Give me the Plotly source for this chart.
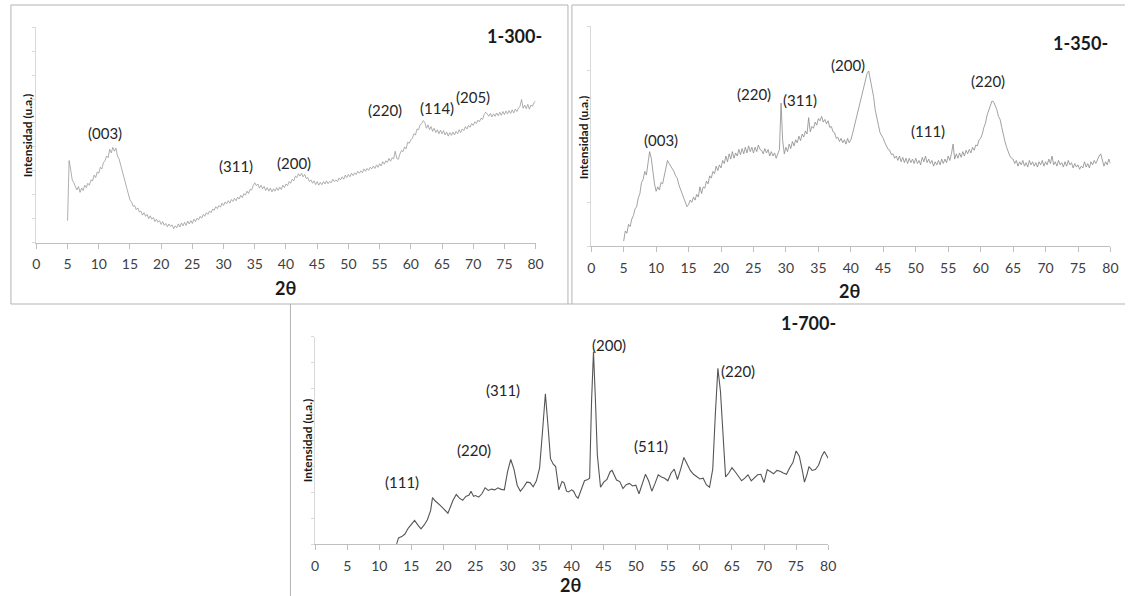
import plotly.graph_objects as go

W, H = 1133, 596

# ---------------- data ----------------
x_ticks = [0, 5, 10, 15, 20, 25, 30, 35, 40, 45, 50, 55, 60, 65, 70, 75, 80]

# Sample 1-300- : 2theta 5 -> 80, step 0.25 deg (one row = 5 deg)
int_300 = [
    0.92, 3.43, 3.05, 2.62, 2.5, 2.32, 2.2, 2.35, 2.1, 2.28, 2.18, 2.4, 2.3, 2.48, 2.4, 2.62, 2.58, 2.82, 2.72, 2.95,
    2.9, 3.15, 3.08, 3.35, 3.42, 3.62, 3.55, 3.9, 3.75, 3.98, 3.82, 3.95, 3.62, 3.5, 3.25, 3.0, 2.72, 2.5, 2.18, 1.98,
    1.78, 1.7, 1.52, 1.55, 1.38, 1.45, 1.28, 1.32, 1.15, 1.25, 1.1, 1.18, 1.0, 1.12, 0.98, 1.05, 0.88, 0.98, 0.85, 0.92,
    0.76, 0.88, 0.72, 0.8, 0.66, 0.78, 0.68, 0.74, 0.58, 0.7, 0.62, 0.78, 0.65, 0.82, 0.7, 0.85, 0.72, 0.9, 0.78, 0.92,
    0.8, 0.98, 0.88, 1.02, 0.95, 1.1, 1.02, 1.18, 1.1, 1.25, 1.18, 1.32, 1.25, 1.4, 1.35, 1.5, 1.42, 1.55, 1.48, 1.65,
    1.55, 1.7, 1.62, 1.75, 1.65, 1.8, 1.72, 1.85, 1.75, 1.9, 1.82, 1.98, 1.88, 2.05, 1.98, 2.15, 2.05, 2.22, 2.2, 2.38,
    2.5, 2.38, 2.45, 2.28, 2.4, 2.25, 2.35, 2.18, 2.3, 2.15, 2.28, 2.12, 2.25, 2.15, 2.3, 2.18, 2.32, 2.22, 2.4, 2.3,
    2.45, 2.38, 2.55, 2.48, 2.65, 2.58, 2.78, 2.72, 2.88, 2.78, 2.9, 2.75, 2.85, 2.68, 2.72, 2.55, 2.62, 2.48, 2.58, 2.42,
    2.55, 2.4, 2.52, 2.42, 2.55, 2.45, 2.58, 2.46, 2.56, 2.5, 2.65, 2.55, 2.62, 2.55, 2.7, 2.62, 2.75, 2.65, 2.82, 2.72,
    2.85, 2.75, 2.9, 2.8, 2.92, 2.84, 2.98, 2.9, 3.0, 2.92, 3.08, 2.98, 3.1, 3.02, 3.15, 3.08, 3.2, 3.1, 3.25, 3.15,
    3.3, 3.2, 3.38, 3.28, 3.42, 3.35, 3.52, 3.4, 3.55, 3.5, 3.82, 3.52, 3.48, 3.7, 3.85, 3.8, 4.0, 3.92, 4.2, 4.15,
    4.3, 4.35, 4.55, 4.5, 4.75, 4.72, 4.92, 4.98, 5.1, 5.02, 4.78, 4.92, 4.72, 4.85, 4.65, 4.78, 4.6, 4.72, 4.55, 4.7,
    4.55, 4.68, 4.5, 4.62, 4.45, 4.6, 4.48, 4.62, 4.5, 4.65, 4.55, 4.72, 4.6, 4.75, 4.68, 4.85, 4.75, 4.9, 4.82, 4.98,
    4.9, 5.05, 4.98, 5.12, 5.05, 5.2, 5.15, 5.35, 5.45, 5.38, 5.28, 5.4, 5.25, 5.38, 5.28, 5.42, 5.3, 5.45, 5.32, 5.48,
    5.35, 5.5, 5.38, 5.52, 5.4, 5.55, 5.42, 5.58, 5.48, 5.62, 5.7, 5.98, 5.62, 5.75, 5.6, 5.78, 5.58, 5.75, 5.7, 5.85,
    5.92,
]

# Sample 1-350- : 2theta 5 -> 80, step 0.25 deg (one row = 5 deg)
int_350 = [
    0.12, 0.35, 0.3, 0.5, 0.45, 0.62, 0.7, 0.85, 0.9, 1.1, 1.2, 1.45, 1.52, 1.7, 1.62, 1.9, 2.15, 2.0, 1.7, 1.42,
    1.25, 1.35, 1.28, 1.45, 1.42, 1.6, 1.75, 1.95, 1.88, 1.82, 1.75, 1.7, 1.6, 1.55, 1.4, 1.3, 1.2, 1.08, 1.0, 0.9,
    0.95, 1.05, 1.0, 1.12, 1.05, 1.18, 1.12, 1.35, 1.2, 1.35, 1.32, 1.48, 1.42, 1.6, 1.55, 1.7, 1.65, 1.82, 1.72, 1.85,
    1.78, 1.95, 1.88, 2.05, 1.92, 2.1, 1.98, 2.15, 2.0, 2.12, 2.05, 2.2, 2.08, 2.22, 2.1, 2.25, 2.12, 2.28, 2.15, 2.25,
    2.12, 2.25, 2.15, 2.3, 2.2, 2.18, 2.1, 2.22, 2.12, 2.2, 2.05, 2.15, 2.05, 2.12, 2.0, 2.08, 2.2, 3.25, 2.4, 2.1,
    2.25, 2.15, 2.32, 2.22, 2.38, 2.28, 2.42, 2.35, 2.5, 2.4, 2.55, 2.48, 2.62, 2.55, 2.92, 2.6, 2.72, 2.68, 2.82, 2.75,
    2.9, 2.85, 2.95, 2.82, 2.88, 2.78, 2.85, 2.7, 2.72, 2.6, 2.58, 2.45, 2.48, 2.38, 2.45, 2.35, 2.42, 2.32, 2.45, 2.35,
    2.42, 2.55, 2.7, 2.85, 3.0, 3.15, 3.3, 3.45, 3.6, 3.75, 3.92, 3.98, 3.8, 3.62, 3.4, 3.1, 2.88, 2.75, 2.58, 2.52,
    2.45, 2.35, 2.28, 2.2, 2.18, 2.08, 2.1, 2.0, 2.05, 1.95, 2.05, 1.92, 2.02, 1.9, 2.0, 1.88, 2.0, 1.9, 1.98, 1.88,
    2.0, 1.88, 1.95, 1.85, 2.02, 1.92, 2.05, 1.9, 1.98, 1.88, 1.95, 1.82, 1.92, 1.85, 1.95, 1.85, 1.98, 1.88, 1.98, 1.9,
    2.05, 1.95, 2.1, 2.32, 1.98, 2.1, 2.0, 2.12, 2.02, 2.15, 2.05, 2.18, 2.1, 2.2, 2.12, 2.25, 2.18, 2.3, 2.28, 2.42,
    2.45, 2.55, 2.7, 2.8, 2.98, 3.1, 3.22, 3.3, 3.28, 3.2, 3.1, 2.95, 2.88, 2.7, 2.5, 2.38, 2.25, 2.15, 2.05, 2.0,
    1.98, 1.88, 1.95, 1.82, 1.92, 1.85, 1.95, 1.82, 1.9, 1.8, 1.95, 1.85, 1.92, 1.82, 1.9, 1.8, 1.92, 1.85, 1.95, 1.82,
    1.92, 1.85, 1.98, 1.88, 2.05, 1.85, 1.92, 1.82, 1.95, 1.85, 1.9, 1.8, 1.92, 1.82, 1.95, 1.85, 1.9, 1.78, 1.88, 1.8,
    1.85, 1.75, 1.82, 1.78, 1.92, 1.8, 1.88, 1.78, 1.92, 1.85, 1.95, 1.88, 1.98, 2.05, 2.1, 1.95, 1.82, 1.92, 1.85, 1.98,
    1.88,
]

# Sample 1-700-
tt_700 = [12.7, 13.0, 13.5, 14.0, 14.5, 15.0, 15.5, 16.0, 16.5, 17.0,
          17.5, 18.0, 18.3, 18.7, 19.0, 19.5, 20.0, 20.4, 20.7, 21.1,
          21.5, 22.0, 22.5, 23.0, 23.5, 24.0, 24.3, 24.7, 25.0, 25.5,
          26.0, 26.5, 27.0, 27.5, 28.0, 28.5, 29.0, 29.5, 30.0, 30.5,
          31.0, 31.5, 32.0, 32.5, 33.0, 33.5, 34.0, 34.5, 35.0, 35.5,
          35.9, 36.3, 36.7, 37.1, 37.5, 38.0, 38.5, 38.8, 39.2, 39.5,
          40.0, 40.3, 40.7, 41.0, 41.5, 42.0, 42.5, 42.8, 43.1, 43.4,
          43.7, 44.0, 44.5, 45.0, 45.5, 46.0, 46.3, 46.7, 47.0, 47.5,
          48.0, 48.5, 49.0, 49.5, 50.0, 50.5, 51.0, 51.5, 52.0, 52.5,
          53.0, 53.5, 54.0, 54.5, 55.0, 55.5, 56.0, 56.5, 57.0, 57.5,
          58.0, 58.5, 59.0, 59.5, 60.0, 60.5, 61.0, 61.5, 62.0, 62.4,
          62.8, 63.2, 63.6, 64.0, 64.5, 65.0, 65.5, 66.0, 66.5, 67.0,
          67.5, 68.0, 68.5, 69.0, 69.5, 70.0, 70.5, 71.0, 71.5, 72.0,
          72.5, 73.0, 73.5, 74.0, 74.5, 75.0, 75.5, 76.0, 76.3, 76.7,
          77.0, 77.5, 78.0, 78.5, 79.0, 79.4, 79.7, 80.0]
int_700 = [0.02, 0.25, 0.3, 0.4, 0.62, 0.75, 0.92, 0.75, 0.6, 0.75,
           0.95, 1.3, 1.8, 1.68, 1.62, 1.5, 1.38, 1.25, 1.2, 1.45,
           1.7, 1.92, 1.78, 1.7, 1.85, 1.9, 2.05, 1.85, 1.88, 1.82,
           1.95, 2.18, 2.08, 2.13, 2.1, 2.18, 2.12, 2.1, 2.8, 3.27,
           2.9, 2.28, 2.05, 2.2, 2.4, 2.38, 2.22, 2.45, 2.95, 4.5,
           5.8, 4.6, 3.3, 3.1, 3.0, 2.1, 2.42, 2.38, 2.05, 2.02,
           2.1, 2.05, 1.85, 1.78, 2.15, 2.45, 2.5, 2.55, 5.5, 7.42,
           5.6, 3.45, 2.2, 2.4, 2.5, 2.8, 2.85, 2.6, 2.48, 2.42,
           2.15, 2.3, 2.35, 2.25, 2.28, 1.95, 2.3, 2.7, 2.45, 2.05,
           2.35, 2.68, 2.6, 2.55, 2.45, 2.75, 2.9, 2.5, 2.9, 3.35,
           3.1, 2.85, 2.7, 2.6, 2.52, 2.55, 2.3, 2.2, 2.9, 5.0,
           6.78, 5.9, 4.0, 2.6, 2.75, 2.95, 2.8, 2.6, 2.45, 2.55,
           2.68, 2.45, 2.55, 2.68, 2.7, 2.38, 2.88, 2.8, 2.72, 2.85,
           2.82, 2.75, 2.7, 2.95, 3.15, 3.6, 3.4, 2.8, 2.4, 2.7,
           3.0, 2.85, 2.88, 3.05, 3.4, 3.58, 3.45, 3.32]

assert len(tt_700) == len(int_700), (len(tt_700), len(int_700))
assert len(int_300) == 301, len(int_300)
assert len(int_350) == 301, len(int_350)

STEP = 0.25
tt_300 = [5.0 + STEP * i for i in range(len(int_300))]
tt_350 = [5.0 + STEP * i for i in range(len(int_350))]

titles = ["1-300-", "1-350-", "1-700-"]
y_max = [9, 5, 8]

labels_300 = ["(003)", "(311)", "(200)", "(220)", "(114)", "(205)"]
labels_350 = ["(003)", "(220)", "(311)", "(200)", "(111)", "(220)"]
labels_700 = ["(111)", "(220)", "(311)", "(200)", "(511)", "(220)"]

# ---------------- layout helpers ----------------
def px_x(p):
    return p / W

def px_y(p):
    return 1 - p / H

FONT = "Lato"
TICK_COL = "#404040"
AX_COL = "#bfbfbf"

# panel geometry in pixels: (x_left, x_right, y_top, y_bottom)
panels = [
    (32.7, 537.3, 27.3, 242.6),
    (593.5, 1118.3, 26.0, 246.4),
    (314.5, 833.0, 336.7, 544.4),
]

fig = go.Figure()

series = [(tt_300, int_300, "#9a9a9a", 0.8),
          (tt_350, int_350, "#8a8a8a", 0.8),
          (tt_700, int_700, "#555555", 1.1)]

for i, (xs, ys, col, lw) in enumerate(series):
    n = "" if i == 0 else str(i + 1)
    fig.add_trace(go.Scatter(x=xs, y=ys, mode="lines",
                             line=dict(color=col, width=lw),
                             xaxis="x" + n, yaxis="y" + n,
                             showlegend=False, hoverinfo="skip"))

layout = dict(width=W, height=H, margin=dict(l=0, r=0, t=0, b=0),
              paper_bgcolor="white", plot_bgcolor="white",
              showlegend=False)

for i, (xl, xr, yt, yb) in enumerate(panels):
    n = "" if i == 0 else str(i + 1)
    layout["xaxis" + n] = dict(
        domain=[px_x(xl), px_x(xr)], range=[0, 80], anchor="y" + n,
        tickmode="array", tickvals=x_ticks, ticktext=[str(v) for v in x_ticks],
        showgrid=False, zeroline=False, showline=True, linecolor=AX_COL,
        linewidth=1, ticks="outside", ticklen=5, tickcolor=AX_COL,
        ticklabelstandoff=4,
        tickfont=dict(family=FONT, size=14, color=TICK_COL),
        fixedrange=True)
    layout["yaxis" + n] = dict(
        domain=[px_y(yb), px_y(yt)], range=[0, y_max[i]], anchor="x" + n,
        dtick=1, showticklabels=False, showgrid=False, zeroline=False,
        showline=True, linecolor="#d9d9d9", linewidth=1, ticks="outside",
        ticklen=3, tickcolor="#d9d9d9", fixedrange=True)

fig.update_layout(**layout)

anns = []
title_pos = [(515.5, 35.5), (1088, 43.5), (813, 322.5)]
for t, (x, y) in zip(titles, title_pos):
    anns.append(dict(text="<b>%s</b>" % t, x=px_x(x), y=px_y(y), xref="paper",
                     yref="paper", showarrow=False, xanchor="center",
                     yanchor="middle",
                     font=dict(family=FONT, size=18, color="#1a1a1a")))
xt_pos = [(285, 287.5), (855, 291.5), (573, 585)]
for (x, y) in xt_pos:
    anns.append(dict(text="<b>2θ</b>", x=px_x(x), y=px_y(y), xref="paper",
                     yref="paper", showarrow=False, xanchor="center",
                     yanchor="middle",
                     font=dict(family=FONT, size=18, color="#1a1a1a")))
yt_pos = [(23.5, 135), (585.5, 137), (306.5, 440)]
for (x, y) in yt_pos:
    anns.append(dict(text="<b>Intensidad (u.a.)</b>", x=px_x(x), y=px_y(y),
                     xref="paper", yref="paper", showarrow=False,
                     xanchor="center", yanchor="middle", textangle=-90,
                     font=dict(family=FONT, size=12, color="#1a1a1a")))
pos_300 = [(102, 133.3), (234.5, 165.7), (292.7, 162.7), (385.5, 110), (437.5, 108.3), (473.8, 96.7)]
pos_350 = [(663.6, 140), (758, 94.3), (805, 100), (853, 65), (933.8, 131), (994.3, 81)]
pos_700 = [(402, 481.7), (475, 450), (504.8, 390), (611, 345), (654.4, 445.7), (742, 370.7)]
for labs, poss in [(labels_300, pos_300), (labels_350, pos_350), (labels_700, pos_700)]:
    for t, (x, y) in zip(labs, poss):
        anns.append(dict(text=t, x=px_x(x), y=px_y(y), xref="paper",
                         yref="paper", showarrow=False, xanchor="center",
                         yanchor="middle",
                         font=dict(family=FONT, size=15, color="#262626")))
fig.update_layout(annotations=anns)

BCOL = "#b3b3b3"
frame_lines = [
    (7, 5, 570, 5), (7, 5, 7, 304), (570, 5, 570, 304),
    (574, 5, 1133, 5), (574, 5, 574, 304),
    (7, 304, 1133, 304), (289.5, 304, 289.5, 596),
]
shapes = []
for (x0, y0, x1, y1) in frame_lines:
    shapes.append(dict(type="line", xref="paper", yref="paper",
                       x0=px_x(x0), y0=px_y(y0), x1=px_x(x1), y1=px_y(y1),
                       line=dict(color=BCOL, width=1)))
fig.update_layout(shapes=shapes)

fig.write_html(
    "out.html",
    config={"displayModeBar": False},
    post_script="document.body.style.margin='0';document.body.style.padding='0';"
                "document.documentElement.style.overflow='hidden';")
